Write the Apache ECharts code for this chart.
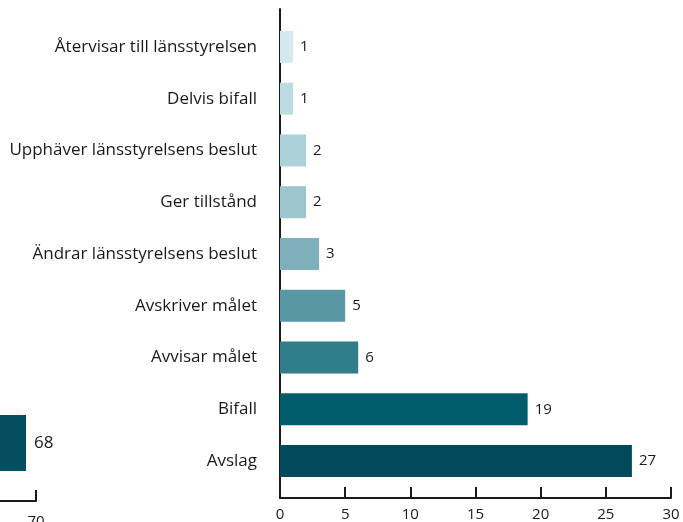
<!DOCTYPE html>
<html>
<head>
<meta charset="utf-8">
<script src="https://cdn.jsdelivr.net/npm/echarts@6/dist/echarts.min.js"></script>
<style>html,body{margin:0;padding:0;background:#fff}#c{width:683px;height:522px}</style>
</head>
<body>
<div id="c"></div>
<script>
// Main chart data
var categories = ['Återvisar till länsstyrelsen','Delvis bifall','Upphäver länsstyrelsens beslut','Ger tillstånd','Ändrar länsstyrelsens beslut','Avskriver målet','Avvisar målet','Bifall','Avslag'];
var values = [1,1,2,2,3,5,6,19,27];
var xTicks = [0,5,10,15,20,25,30];
// Partially visible neighbouring chart (left edge)
var leftCategories = ['Avslag'];
var leftValues = [68];

var barColors = ['#d5e8ec','#bddbe1','#add1d8','#9cc4cc','#7eafbb','#5898a5','#2f7e8a','#005c6b','#024a5a'];
var leftColor = '#034f5f';
var ink = '#1a1a1a';
var font = 'Open Sans';

var chart = echarts.init(document.getElementById('c'), null, {renderer:'canvas'});
chart.setOption({
  animation:false,
  grid:[
    {left:280, right:12, top:21, bottom:35, outerBoundsMode:'none', containLabel:false},
    {left:280, right:12, top:9, bottom:24, outerBoundsMode:'none', containLabel:false},
    {left:-314, width:350, top:385, bottom:21, outerBoundsMode:'none', containLabel:false}
  ],
  xAxis:[
    {gridIndex:0, type:'value', min:0, max:30, interval:5, show:false},
    {gridIndex:1, type:'value', min:xTicks[0], max:xTicks[xTicks.length-1], interval:5,
      axisLine:{show:true, onZero:false, lineStyle:{color:ink, width:2}},
      axisTick:{show:true, inside:true, length:11, lineStyle:{color:ink, width:2}},
      axisLabel:{show:true, margin:9, color:ink, fontFamily:font, fontSize:15},
      splitLine:{show:false}},
    {gridIndex:2, type:'value', min:0, max:70, interval:10,
      axisLine:{show:true, onZero:false, lineStyle:{color:ink, width:2}},
      axisTick:{show:true, inside:true, length:11, lineStyle:{color:ink, width:2}},
      axisLabel:{show:true, margin:13, color:ink, fontFamily:font, fontSize:15},
      splitLine:{show:false}}
  ],
  yAxis:[
    {gridIndex:0, type:'category', data:categories, inverse:true,
      axisLine:{show:false}, axisTick:{show:false},
      axisLabel:{margin:23, color:ink, fontFamily:font, fontSize:17}},
    {gridIndex:1, type:'value', min:0, max:1,
      axisLine:{show:true, onZero:false, lineStyle:{color:ink, width:2}},
      axisTick:{show:false}, axisLabel:{show:false}, splitLine:{show:false}},
    {gridIndex:2, type:'category', data:leftCategories, show:false}
  ],
  series:[
    {type:'bar', xAxisIndex:0, yAxisIndex:0, barWidth:32,
      data: values.map(function(v,i){return {value:v, itemStyle:{color:barColors[i]}};}),
      label:{show:true, position:'right', distance:7, color:ink, fontFamily:font, fontSize:15}},
    {type:'bar', xAxisIndex:2, yAxisIndex:2, barWidth:56,
      data: leftValues, itemStyle:{color:leftColor},
      label:{show:true, position:'right', distance:8, color:ink, fontFamily:font, fontSize:17}}
  ]
});
</script>
</body>
</html>
